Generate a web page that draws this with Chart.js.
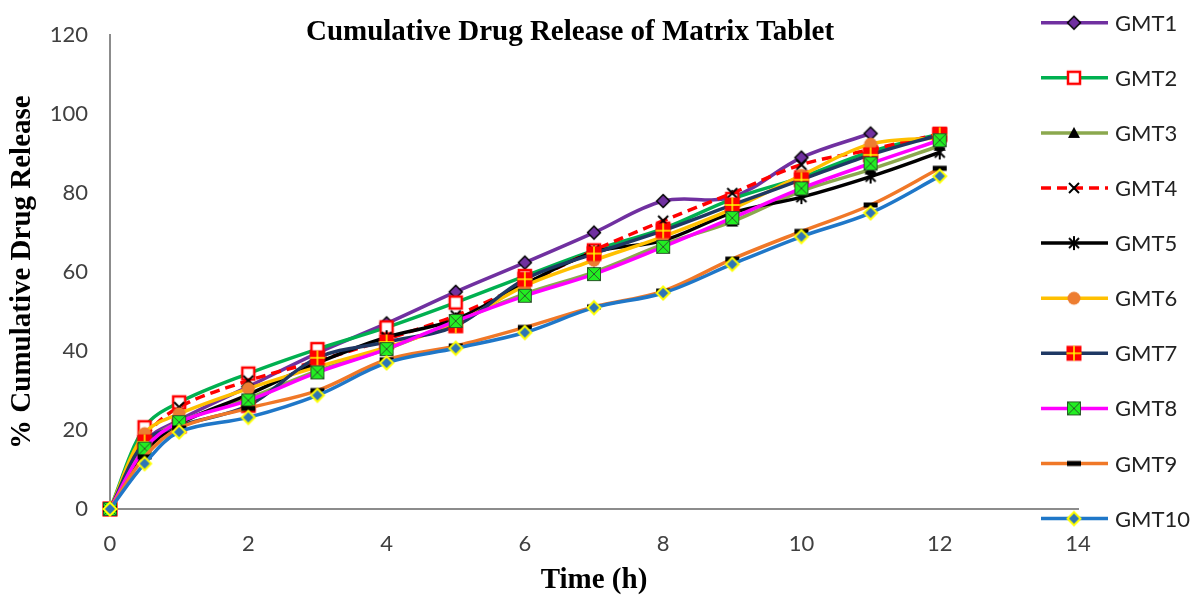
<!DOCTYPE html>
<html>
<head>
<meta charset="utf-8">
<title>Cumulative Drug Release of Matrix Tablet</title>
<script src="https://cdn.jsdelivr.net/npm/chart.js@4.4.1/dist/chart.umd.min.js"></script>
<style>
  html, body { margin: 0; padding: 0; background: #fff; }
  canvas { display: block; }
</style>
</head>
<body>
<canvas id="release-chart" width="1193" height="598"></canvas>
<script>
// time points (h)
const timePoints = [0, 0.5, 1, 2, 3, 4, 5, 6, 7, 8, 9, 10, 11, 12];
const seriesNames = ['GMT1', 'GMT2', 'GMT3', 'GMT4', 'GMT5', 'GMT6', 'GMT7', 'GMT8', 'GMT9', 'GMT10'];

// % cumulative drug release
const gmt1 = [0, 17, 22.5, 31, 39.5, 47, 55, 62.4, 70, 78, 79, 89, 95.1, null];
const gmt2 = [0, 20.7, 27, 34.3, 40.5, 46, 52.3, 59, 65.5, 71, 78.5, 84, 90.5, 95];
const gmt3 = [0, 16, 22, 28, 35, 40.5, 47.5, 54.5, 60, 67, 72.8, 80.5, 86, 92];
const gmt4 = [0, 18, 25.8, 32.5, 37.5, 43, 49, 57, 65.5, 73, 80, 87.2, 91, 95];
const gmt5 = [0, 14.4, 21.5, 29, 37, 43.5, 48, 57, 65, 68, 75, 79, 84.2, 90.3];
const gmt6 = [0, 19.1, 24.1, 30.5, 36, 41, 47, 56.5, 63, 69, 76, 84.5, 92.4, 94];
const gmt7 = [0, 17, 21, 26.2, 38.3, 42.3, 46.4, 58.2, 64.7, 70.5, 77, 83.4, 89.7, 94.8];
const gmt8 = [0, 15.3, 22, 27.5, 34.6, 40.5, 47.6, 54, 59.5, 66.4, 73.7, 81.2, 87.5, 93.4];
const gmt9 = [0, 13.2, 20.5, 25.5, 30, 37.8, 41.3, 46, 51.2, 55.2, 63.3, 70.3, 77, 86.3];
const gmt10 = [0, 11.5, 19.5, 23.2, 28.8, 37, 40.7, 44.7, 51, 54.7, 62, 69, 75, 84.3];

const allSeries = [gmt1, gmt2, gmt3, gmt4, gmt5, gmt6, gmt7, gmt8, gmt9, gmt10];
const lineColors = ['#7030A0', '#00B050', '#8BA84E', '#FF0000', '#000000',
  '#FFC000', '#1F3864', '#FF00FF', '#F07828', '#1F77C8'];
const markerKinds = ['diamond', 'openSquare', 'triangle', 'cross', 'star',
  'circle', 'plusSquare', 'xSquare', 'dash', 'blueDiamond'];

const tickFont = { family: 'Lato', size: 22 };
const serifBold = { family: '"Liberation Serif", "Times New Roman", serif', size: 29, weight: 'bold' };

/**
 * Builds a small canvas used as the point style of a series.
 */
function makeMarker(kind) {
  const c = document.createElement('canvas');
  c.width = 18;
  c.height = 18;
  const g = c.getContext('2d');
  const line = (x1, y1, x2, y2) => {
    g.beginPath();
    g.moveTo(x1, y1);
    g.lineTo(x2, y2);
    g.stroke();
  };
  const diamond = (r) => {
    g.beginPath();
    g.moveTo(9, 9 - r);
    g.lineTo(9 + r, 9);
    g.lineTo(9, 9 + r);
    g.lineTo(9 - r, 9);
    g.closePath();
  };

  switch (kind) {
    case 'diamond':
      diamond(6.5);
      g.fillStyle = '#7030A0';
      g.fill();
      g.lineWidth = 1.5;
      g.strokeStyle = '#000';
      g.stroke();
      break;
    case 'openSquare':
      g.fillStyle = '#fff';
      g.fillRect(3, 3, 12, 12);
      g.lineWidth = 2.5;
      g.strokeStyle = '#FF0000';
      g.strokeRect(3, 3, 12, 12);
      break;
    case 'triangle':
      g.beginPath();
      g.moveTo(9, 3);
      g.lineTo(15, 14);
      g.lineTo(3, 14);
      g.closePath();
      g.fillStyle = '#000';
      g.fill();
      break;
    case 'cross':
      g.lineWidth = 2;
      g.strokeStyle = '#000';
      line(4, 4, 14, 14);
      line(14, 4, 4, 14);
      break;
    case 'star':
      g.lineWidth = 2;
      g.strokeStyle = '#000';
      line(4, 4, 14, 14);
      line(14, 4, 4, 14);
      line(9, 2, 9, 16);
      break;
    case 'circle':
      g.beginPath();
      g.arc(9, 9, 6.5, 0, Math.PI * 2);
      g.fillStyle = '#ED7D31';
      g.fill();
      break;
    case 'plusSquare':
      g.fillStyle = '#FF0000';
      g.fillRect(1.5, 1.5, 15, 15);
      g.lineWidth = 1.5;
      g.strokeStyle = '#FFFF00';
      line(9, 1.5, 9, 16.5);
      line(1.5, 9, 16.5, 9);
      break;
    case 'xSquare':
      g.fillStyle = '#22EE22';
      g.fillRect(2.5, 2.5, 13, 13);
      g.lineWidth = 1;
      g.strokeStyle = '#2A5A2A';
      g.strokeRect(2.5, 2.5, 13, 13);
      line(2.5, 2.5, 15.5, 15.5);
      line(15.5, 2.5, 2.5, 15.5);
      break;
    case 'dash':
      g.fillStyle = '#000';
      g.fillRect(2, 6.5, 14, 5);
      break;
    case 'blueDiamond':
      diamond(6.5);
      g.fillStyle = '#2E75B6';
      g.fill();
      g.lineWidth = 2;
      g.strokeStyle = '#FFFF00';
      g.stroke();
      break;
  }
  return c;
}

const markers = markerKinds.map(makeMarker);

const datasets = allSeries.map((values, i) => ({
  label: seriesNames[i],
  data: timePoints.map((t, j) => ({ x: t, y: values[j] })),
  borderColor: lineColors[i],
  backgroundColor: lineColors[i],
  borderWidth: 3.5,
  borderDash: i === 3 ? [10, 6] : [],
  tension: 0.35,
  pointStyle: markers[i],
  pointRadius: 8,
  pointHoverRadius: 8,
  spanGaps: false,
  clip: false,
  // later series sit on top, as in the original
  order: seriesNames.length - i
}));

// title drawn over the plot, legend drawn at the right edge
const decorations = {
  id: 'decorations',
  afterDraw(chart) {
    const ctx = chart.ctx;
    ctx.save();
    ctx.fillStyle = '#000';
    ctx.font = 'bold 29px "Liberation Serif", "Times New Roman", serif';
    ctx.textAlign = 'center';
    ctx.textBaseline = 'middle';
    ctx.fillText('Cumulative Drug Release of Matrix Tablet', 570, 33);

    ctx.textAlign = 'left';
    ctx.font = '22px Lato';
    seriesNames.forEach((name, i) => {
      const y = 22.7 + i * 55.1;
      ctx.strokeStyle = lineColors[i];
      ctx.lineWidth = 3.5;
      ctx.setLineDash(i === 3 ? [10, 6] : []);
      ctx.beginPath();
      ctx.moveTo(1041, y);
      ctx.lineTo(1108, y);
      ctx.stroke();
      ctx.setLineDash([]);
      ctx.drawImage(markers[i], 1074 - 9, y - 9);
      ctx.fillStyle = '#222';
      ctx.fillText(name, 1115, y + 1);
    });
    ctx.restore();
  }
};

new Chart(document.getElementById('release-chart'), {
  type: 'line',
  data: { datasets },
  options: {
    responsive: false,
    animation: false,
    layout: { padding: { top: 33, right: 115, left: 0, bottom: 0 } },
    plugins: {
      legend: { display: false },
      tooltip: { enabled: false }
    },
    scales: {
      x: {
        type: 'linear',
        min: 0,
        max: 14,
        ticks: { stepSize: 2, padding: 22, font: tickFont, color: '#404040' },
        grid: { display: false, drawTicks: false },
        border: { color: '#8c8c8c', width: 2 },
        title: { display: true, text: 'Time (h)', font: serifBold, color: '#000', padding: { top: 0, bottom: 0 } },
        afterFit(scale) { scale.height = 89; }
      },
      y: {
        min: 0,
        max: 120,
        ticks: { stepSize: 20, padding: 22, font: tickFont, color: '#404040' },
        grid: { display: false, drawTicks: false },
        border: { color: '#8c8c8c', width: 2 },
        title: { display: true, text: '% Cumulative Drug Release', font: serifBold, color: '#000', padding: { top: 5, bottom: 0 } },
        afterFit(scale) { scale.width = 110; }
      }
    }
  },
  plugins: [decorations]
});
</script>
</body>
</html>
